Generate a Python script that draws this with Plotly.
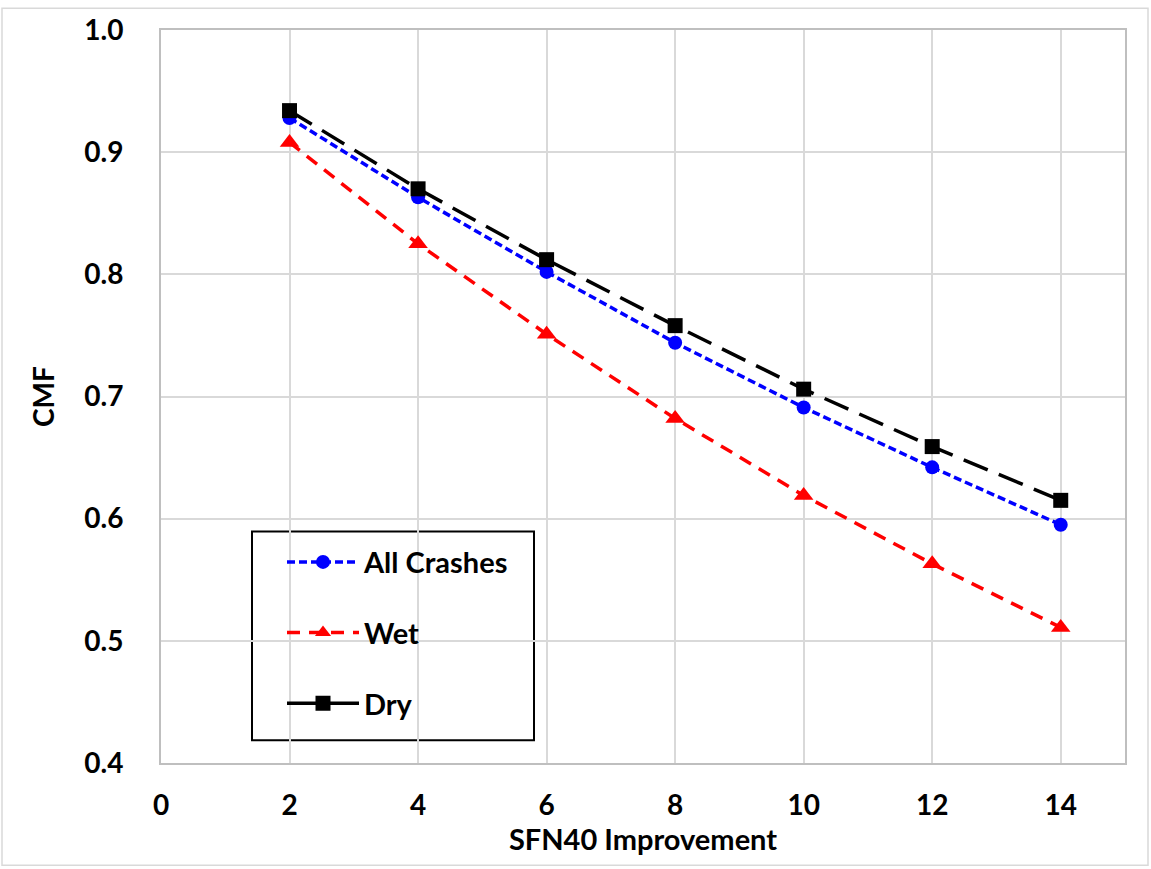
import plotly.graph_objects as go

sfn40 = [2, 4, 6, 8, 10, 12, 14]
all_crashes = [0.928, 0.863, 0.802, 0.744, 0.691, 0.642, 0.595]
wet = [0.908, 0.825, 0.751, 0.682, 0.619, 0.563, 0.511]
dry = [0.934, 0.870, 0.812, 0.758, 0.706, 0.659, 0.615]

names = ["All Crashes", "Wet", "Dry"]
colors = ["#0000ff", "#ff0000", "#000000"]
symbols = ["circle", "triangle-up", "square"]
marker_sizes = [14, 17, 15]
legend_marker_sizes = [14, 14, 15]
plot_dash = ["8px,4px", "13px,9px", "26px,12px"]
legend_dash = ["8px,4px", "13px,9px", "solid"]
series = [all_crashes, wet, dry]

FONT = "Lato"
fig = go.Figure()

for i in range(3):
    fig.add_trace(go.Scatter(
        x=sfn40, y=series[i], mode="lines+markers", name=names[i],
        line=dict(color=colors[i], width=3.5, dash=plot_dash[i]),
        marker=dict(symbol=symbols[i], size=marker_sizes[i], color=colors[i]),
        showlegend=False,
    ))

for i in range(3):
    fig.add_trace(go.Scatter(
        x=[None], y=[None], mode="lines+markers", name=names[i],
        line=dict(color=colors[i], width=3.5, dash=legend_dash[i]),
        marker=dict(symbol=symbols[i], size=legend_marker_sizes[i], color=colors[i]),
        legendgroup=f"g{i}", showlegend=True,
    ))

# plot area: left 161, right 1125, top 25, bottom 763
L, R, T, B = 161, 1125, 25, 763
W, H = 1151, 869
pw, ph = R - L, B - T

def px2paper_x(px):
    return (px - L) / pw

def px2paper_y(py):
    return (B - py) / ph

# legend box
fig.add_shape(type="rect", xref="paper", yref="paper",
              x0=px2paper_x(252), x1=px2paper_x(534),
              y0=px2paper_y(740), y1=px2paper_y(530),
              line=dict(color="black", width=2), fillcolor="white", layer="between")
# outer frame
fig.add_shape(type="rect", xref="paper", yref="paper",
              x0=px2paper_x(2), x1=px2paper_x(1148),
              y0=px2paper_y(866), y1=px2paper_y(3),
              line=dict(color="#d9d9d9", width=1.5), fillcolor="rgba(0,0,0,0)", layer="below")

fig.update_layout(
    width=W, height=H,
    margin=dict(l=L, r=W - R, t=T, b=H - B),
    paper_bgcolor="white", plot_bgcolor="white",
    font=dict(family=FONT, size=28, color="black", weight="bold"),
    showlegend=True,
    legend=dict(
        x=px2paper_x(282), y=px2paper_y(535), xanchor="left", yanchor="top",
        bgcolor="rgba(0,0,0,0)", borderwidth=0,
        font=dict(family=FONT, size=29, color="black", weight="bold"),
        tracegroupgap=30, itemwidth=72,
    ),
    xaxis=dict(
        range=[0, 15], dtick=2, tick0=0,
        showgrid=True, gridcolor="#d9d9d9", gridwidth=2,
        showline=True, linecolor="#bfbfbf", linewidth=2, mirror=True,
        zeroline=False, ticks="", ticklabelstandoff=16,
        tickfont=dict(family=FONT, size=28, weight="bold"),
        title=dict(text="SFN40 Improvement", font=dict(family=FONT, size=29, weight="bold"), standoff=8),
    ),
    yaxis=dict(
        range=[0.4, 1.0], dtick=0.1, tick0=0.4, tickformat=".1f",
        showgrid=True, gridcolor="#d9d9d9", gridwidth=2,
        showline=True, linecolor="#bfbfbf", linewidth=2, mirror=True,
        zeroline=False, ticks="", ticklabelstandoff=30,
        tickfont=dict(family=FONT, size=28, weight="bold"),
        title=dict(text="CMF", font=dict(family=FONT, size=28, weight="bold"), standoff=21),
    ),
)

fig.write_html("out.html", config={"displayModeBar": False},
               post_script="document.body.style.margin='0';")
